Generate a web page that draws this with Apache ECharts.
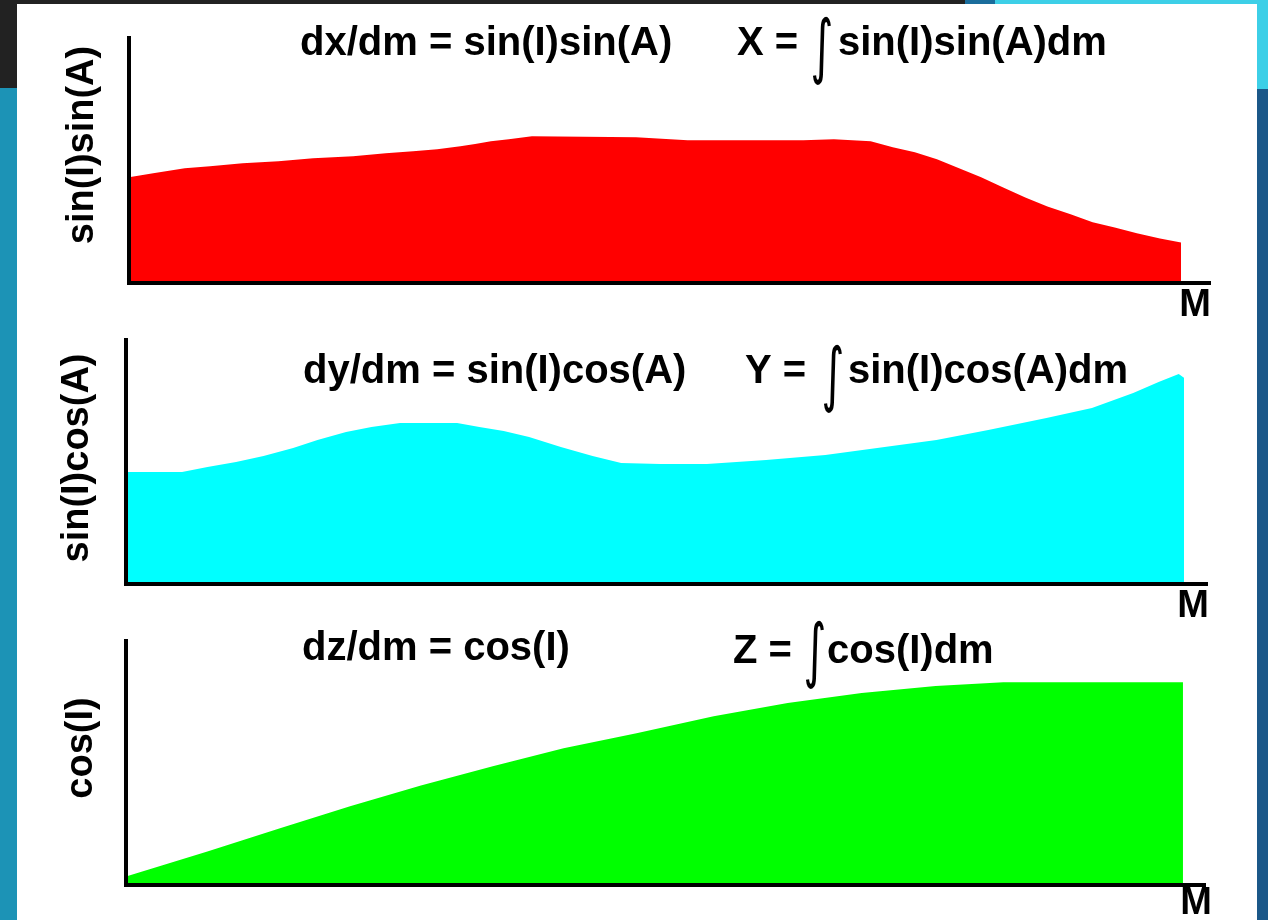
<!DOCTYPE html>
<html>
<head>
<meta charset="utf-8">
<title>dx/dm, dy/dm, dz/dm</title>
<script src="https://cdn.jsdelivr.net/npm/echarts@6/dist/echarts.min.js"></script>
<style>
  html, body { margin: 0; padding: 0; background: #222; }
  #chart { width: 1268px; height: 920px; }
</style>
</head>
<body>
<div id="chart"></div>
<script>
// Position along the path (M, 0..100) and the derivative value at that point
const dxM   = [0, 2.3, 5.3, 7.7, 10.8, 14.2, 17.5, 21.3, 24.4, 27, 29.3, 31.5, 32.9, 34.4, 36.1, 38.3, 48.2, 53.1, 64.1, 67, 70.5, 72.6, 74.7, 76.8, 78.9, 81, 83.1, 85.2, 87.3, 89.5, 91.6, 93.7, 95.8, 98, 100];
const dxVal = [0.43, 0.447, 0.467, 0.475, 0.488, 0.496, 0.508, 0.516, 0.529, 0.537, 0.545, 0.557, 0.566, 0.578, 0.586, 0.598, 0.594, 0.582, 0.582, 0.586, 0.578, 0.553, 0.533, 0.504, 0.467, 0.43, 0.389, 0.348, 0.311, 0.279, 0.246, 0.225, 0.201, 0.18, 0.164];

const dyM   = [0, 5.3, 7.7, 10.4, 13.0, 15.8, 18.1, 20.8, 23.2, 25.9, 31.3, 33.4, 35.7, 38.1, 41.1, 44.1, 46.8, 50.5, 54.9, 60.5, 66.1, 71.0, 76.6, 81.5, 87.0, 91.3, 95.2, 97.6, 99.5, 100];
const dyVal = [0.459, 0.459, 0.48, 0.5, 0.525, 0.557, 0.59, 0.623, 0.643, 0.66, 0.66, 0.643, 0.627, 0.602, 0.561, 0.525, 0.496, 0.492, 0.492, 0.508, 0.529, 0.557, 0.59, 0.631, 0.68, 0.721, 0.783, 0.828, 0.861, 0.845];

const dzM   = [0, 7.7, 14.5, 21.2, 27.9, 34.7, 41.4, 48.3, 55.6, 62.6, 69.6, 76.6, 83.0, 100];
const dzVal = [0.033, 0.136, 0.23, 0.321, 0.407, 0.486, 0.56, 0.621, 0.691, 0.745, 0.786, 0.815, 0.831, 0.831];

// Text of each panel
const yNames     = ['sin(I)sin(A)', 'sin(I)cos(A)', 'cos(I)'];
const derivTexts = ['dx/dm = sin(I)sin(A)', 'dy/dm = sin(I)cos(A)', 'dz/dm = cos(I)'];
const lhsTexts   = ['X = ', 'Y = ', 'Z = '];
const integrands = ['sin(I)sin(A)dm', 'sin(I)cos(A)dm', 'cos(I)dm'];
const xName      = 'M';
const fillColors = ['#ff0000', '#00ffff', '#00ff00'];

// Panel layout
const panels = [
  { left: 129, top: 38,  width: 1080, height: 244.5, xMax: 102.66,
    deriv: [300, 44], lhs: [737, 44], integ: [822, 52], rhs: [838, 44], yName: [83, 145], m: [1195, 306] },
  { left: 126, top: 340, width: 1080, height: 244,   xMax: 102.08,
    deriv: [303, 372], lhs: [745, 372], integ: [833, 380], rhs: [848, 372], yName: [78, 458], m: [1193, 607] },
  { left: 126, top: 641, width: 1078, height: 243.5, xMax: 101.99,
    deriv: [302, 649], lhs: [733, 652], integ: [815, 656], rhs: [827, 652], yName: [82, 748], m: [1196, 904] }
];

const seriesData = [
  dxM.map((m, i) => [m, dxVal[i]]),
  dyM.map((m, i) => [m, dyVal[i]]),
  dzM.map((m, i) => [m, dzVal[i]])
];

const FONT = '"Liberation Sans", Arial, sans-serif';
const axisLine = { show: true, onZero: false, lineStyle: { color: '#000', width: 4, cap: 'square' } };

const textEl = (text, pos, font, extra) => Object.assign({
  type: 'text', x: pos[0], y: pos[1], z: 20,
  style: { text, fill: '#000', font, textAlign: 'left', textVerticalAlign: 'middle' }
}, extra || {});

const graphic = [
  // page background: dark header band, teal/blue side strips
  { type: 'rect', shape: { x: 0, y: 0, width: 1268, height: 920 }, style: { fill: '#1c93b6' }, z: -30 },
  { type: 'rect', shape: { x: 1257, y: 88, width: 11, height: 832 }, style: { fill: '#1b5889' }, z: -29 },
  { type: 'rect', shape: { x: 0, y: 0, width: 965, height: 88 }, style: { fill: '#222222' }, z: -29 },
  { type: 'rect', shape: { x: 965, y: 0, width: 30, height: 88 }, style: { fill: '#1a6d9c' }, z: -29 },
  { type: 'rect', shape: { x: 995, y: 0, width: 273, height: 89 }, style: { fill: '#3dcfe7' }, z: -29 },
  // white sheet
  { type: 'rect', shape: { x: 17, y: 4, width: 1240, height: 916 }, style: { fill: '#ffffff' }, z: -20 }
];

panels.forEach((p, i) => {
  graphic.push(textEl(derivTexts[i], p.deriv, 'bold 40px ' + FONT));
  graphic.push(textEl(lhsTexts[i], p.lhs, 'bold 40px ' + FONT));
  // integral sign, stretched tall and thin
  graphic.push({
    type: 'text', x: p.integ[0], y: p.integ[1], z: 20, scaleX: 1, scaleY: 1.6,
    style: { text: '\u222B', fill: '#000', font: '44px "DejaVu Sans", sans-serif', textAlign: 'center', textVerticalAlign: 'middle' }
  });
  graphic.push(textEl(integrands[i], p.rhs, 'bold 40px ' + FONT));
  // vertical axis title, reading bottom to top
  graphic.push({
    type: 'text', x: p.yName[0], y: p.yName[1], z: 20, rotation: Math.PI / 2,
    style: { text: yNames[i], fill: '#000', font: 'bold 38px ' + FONT, textAlign: 'center', textVerticalAlign: 'middle' }
  });
  graphic.push({
    type: 'text', x: p.m[0], y: p.m[1], z: 20,
    style: { text: xName, fill: '#000', font: 'bold 38px ' + FONT, textAlign: 'center', textVerticalAlign: 'middle' }
  });
});

const chart = echarts.init(document.getElementById('chart'), null, { renderer: 'canvas' });
chart.setOption({
  animation: false,
  backgroundColor: '#222222',
  grid: panels.map(p => ({ left: p.left, top: p.top, width: p.width, height: p.height, containLabel: false })),
  xAxis: panels.map((p, i) => ({
    type: 'value', gridIndex: i, min: 0, max: p.xMax, z: 5,
    axisLine, axisTick: { show: false }, axisLabel: { show: false }, splitLine: { show: false }
  })),
  yAxis: panels.map((p, i) => ({
    type: 'value', gridIndex: i, min: 0, max: 1, z: 5,
    axisLine, axisTick: { show: false }, axisLabel: { show: false }, splitLine: { show: false }
  })),
  series: seriesData.map((d, i) => ({
    type: 'line', xAxisIndex: i, yAxisIndex: i, data: d, z: 2,
    symbol: 'none', smooth: false,
    lineStyle: { width: 0, color: fillColors[i] },
    areaStyle: { color: fillColors[i], opacity: 1 }
  })),
  graphic
});
</script>
</body>
</html>
